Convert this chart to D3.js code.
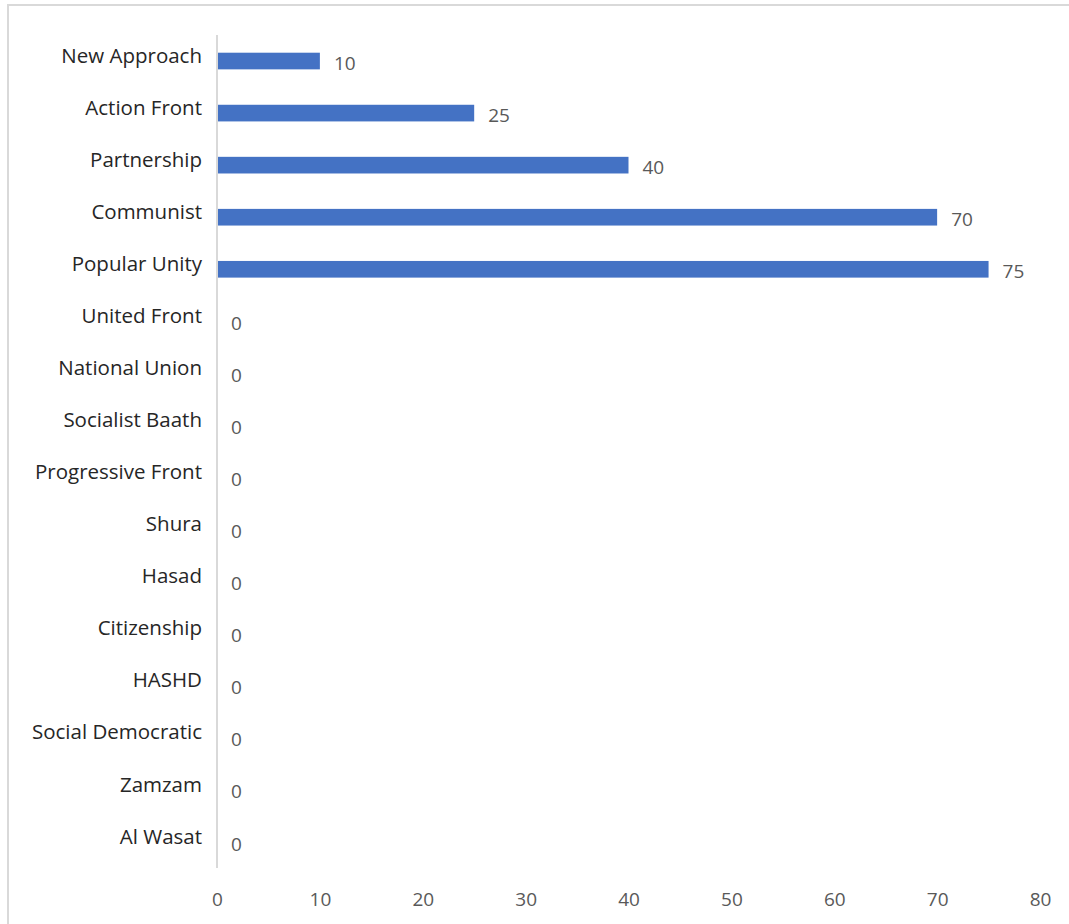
<!DOCTYPE html>
<html><head><meta charset="utf-8">
<script src="https://cdn.jsdelivr.net/npm/d3@7"></script>
<style>body{margin:0;background:#fff;}svg{display:block;}</style>
</head><body>
<svg id="chart" width="1069" height="924"></svg>
<script>
const categories = ["New Approach","Action Front","Partnership","Communist","Popular Unity","United Front","National Union","Socialist Baath","Progressive Front","Shura","Hasad","Citizenship","HASHD","Social Democratic","Zamzam","Al Wasat"];
const values = [10,25,40,70,75,0,0,0,0,0,0,0,0,0,0,0];
const xTicks = [0,10,20,30,40,50,60,70,80];

const svg = d3.select("#chart");
const font = "'Open Sans', sans-serif";
// chart border
svg.append("rect").attr("x",8).attr("y",5).attr("width",1100).attr("height",1000)
  .attr("fill","none").attr("stroke","#d9d9d9").attr("stroke-width",2);

const x = d3.scaleLinear().domain([0,80]).range([217,1040]);
const y = d3.scaleBand().domain(categories).range([35,868]).paddingInner(0.68).paddingOuter(0.34);

svg.selectAll("rect.bar").data(categories).join("rect").attr("class","bar")
  .attr("x",x(0)).attr("y",d=>y(d)).attr("height",y.bandwidth())
  .attr("width",(d,i)=>x(values[i])-x(0)).attr("fill","#4472c4");

// y axis line
svg.append("line").attr("x1",x(0)).attr("x2",x(0)).attr("y1",35).attr("y2",868)
  .attr("stroke","#d9d9d9").attr("stroke-width",2);

const yAxis = d3.axisLeft(y).tickSize(0).tickPadding(15);
const gy = svg.append("g").attr("transform",`translate(${x(0)},0)`).call(yAxis);
gy.select(".domain").remove();
gy.selectAll("text").attr("font-family",font).attr("font-size",20.5).attr("fill","#262626").attr("dy","0.08em");

const xAxis = d3.axisBottom(x).tickValues(xTicks).tickSize(0).tickPadding(0);
const gx = svg.append("g").attr("transform","translate(0,892)").call(xAxis);
gx.select(".domain").remove();
gx.selectAll("text").attr("font-family",font).attr("font-size",19).attr("fill","#595959");

svg.selectAll("text.val").data(categories).join("text").attr("class","val")
  .attr("x",(d,i)=>x(values[i])+14).attr("y",d=>y(d)+y.bandwidth()/2).attr("dy","0.45em")
  .attr("font-family",font).attr("font-size",19).attr("fill","#595959")
  .text((d,i)=>values[i]);
</script>
</body></html>
